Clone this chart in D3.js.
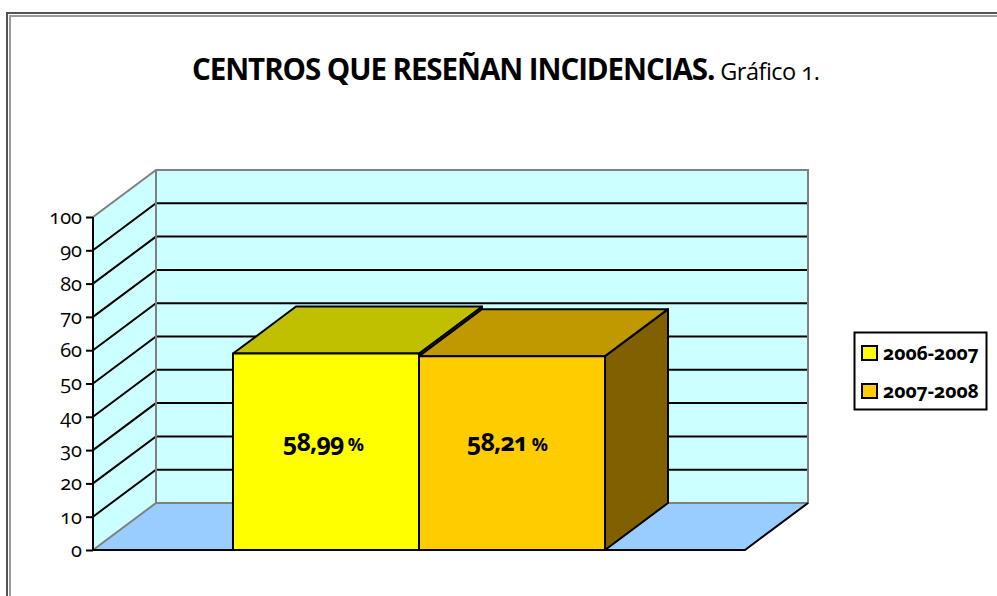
<!DOCTYPE html>
<html>
<head>
<meta charset="utf-8">
<script src="https://cdn.jsdelivr.net/npm/d3@7"></script>
<style>
  html, body { margin: 0; padding: 0; background: #fff; }
  svg { display: block; }
  text { font-family: "Open Sans", "Noto Sans", sans-serif; fill: #000; font-variant-numeric: oldstyle-nums; }
  .axis text { font-family: "Open Sans", sans-serif; font-size: 20px; }
</style>
</head>
<body>
<div id="chart"></div>
<script>
var categories = [ "Centros" ];
var seriesNames = [ "2006-2007", "2007-2008" ];
var seriesValues = [ 58.99, 58.21 ];
var valueLabels = [ "58,99", "58,21" ];
var tickValues = [ 0, 10, 20, 30, 40, 50, 60, 70, 80, 90, 100 ];
var barColors = [ "#ffff00", "#ffcc00" ];
var topColors = [ "#c0c000", "#c09800" ];
var sideColors = [ "#808000", "#806000" ];

var width = 997,
  height = 596,
  plot = { left: 93, right: 745, top: 217, bottom: 550 },
  depth = { x: 63, y: -47 };

var svg = d3.select( "#chart" ).append( "svg" )
  .attr( "width", width )
  .attr( "height", height );

// Page frame, double line running off the right side
var frame = svg.append( "g" ).style( "fill", "none" );
frame.append( "path" ).attr( "d", "M7,596V13H997" ).style( "stroke-width", 2 ).style( "stroke", "#555" );
frame.append( "path" ).attr( "d", "M10,596V16H997" ).style( "stroke-width", 2 ).style( "stroke", "#999" );

// Title
var title = svg.append( "text" )
  .attr( "x", 192 )
  .attr( "y", 80 );
title.append( "tspan" )
  .style( "font-size", "29.5px" )
  .style( "font-weight", 700 )
  .style( "letter-spacing", "-1.06px" )
  .text( "CENTROS QUE RESEÑAN INCIDENCIAS." );
title.append( "tspan" )
  .attr( "dx", 6 )
  .style( "font-size", "23.5px" )
  .style( "letter-spacing", "-0.5px" )
  .text( "Gráfico 1." );

// Scales
var xScale = d3.scaleBand()
  .domain( categories )
  .range( [ plot.left, plot.right ] )
  .paddingInner( 0.2734 )
  .paddingOuter( 0.2734 );

var xSeries = d3.scaleBand()
  .domain( seriesNames )
  .range( [ 0, xScale.bandwidth() ] );

var yScale = d3.scaleLinear()
  .domain( [ 0, 100 ] )
  .range( [ plot.bottom, plot.top ] );

var poly = d3.line();

function shift( p ) {
  return [ p[ 0 ] + depth.x, p[ 1 ] + depth.y ];
}

var x0 = plot.left, x1 = plot.right, yMin = yScale( 0 ), yMax = yScale( 100 );
var g = svg.append( "g" );

// Left wall and back wall
g.append( "path" )
  .attr( "d", poly( [ [ x0, yMin ], shift( [ x0, yMin ] ), shift( [ x0, yMax ] ), [ x0, yMax ] ] ) + "Z" )
  .style( "fill", "#ccffff" );

g.append( "rect" )
  .attr( "x", x0 + depth.x )
  .attr( "y", yMax + depth.y )
  .attr( "width", x1 - x0 )
  .attr( "height", yMin - yMax )
  .style( "fill", "#ccffff" );

// Gridlines along both walls
var grids = tickValues.filter( function( d ) { return d > 0 && d < 100; } );

g.selectAll( ".grid" )
  .data( grids )
  .enter()
  .append( "path" )
    .attr( "class", "grid" )
    .attr( "d", function( d ) {
      var y = yScale( d );
      return poly( [ [ x0, y ], shift( [ x0, y ] ), shift( [ x1, y ] ) ] );
    } )
    .style( "fill", "none" )
    .style( "stroke", "#000" )
    .style( "stroke-width", 2 );

// Floor
g.append( "path" )
  .attr( "d", poly( [ [ x0, yMin ], shift( [ x0, yMin ] ), shift( [ x1, yMin ] ), [ x1, yMin ] ] ) + "Z" )
  .style( "fill", "#99ccff" );

// Grey wall outline
g.append( "path" )
  .attr( "d", poly( [ [ x0, yMin ], shift( [ x0, yMin ] ), shift( [ x1, yMin ] ), shift( [ x1, yMax ] ), shift( [ x0, yMax ] ), [ x0, yMax ] ] ) )
  .style( "fill", "none" )
  .style( "stroke", "#808080" )
  .style( "stroke-width", 2 );

g.append( "path" )
  .attr( "d", poly( [ shift( [ x0, yMin ] ), shift( [ x0, yMax ] ) ] ) )
  .style( "stroke", "#808080" )
  .style( "stroke-width", 2 );

// Front and right floor edges
g.append( "path" )
  .attr( "d", poly( [ [ x0, yMin ], [ x1, yMin ], shift( [ x1, yMin ] ) ] ) )
  .style( "fill", "none" )
  .style( "stroke", "#000" )
  .style( "stroke-width", 2 );

// Bars, each one a front, top and side face
var bars = g.selectAll( ".bar" )
  .data( seriesValues )
  .enter()
  .append( "g" )
    .attr( "class", "bar" )
    .style( "stroke", "#000" )
    .style( "stroke-width", 2 )
    .style( "stroke-linejoin", "round" );

function barLeft( i ) {
  return xScale( categories[ 0 ] ) + xSeries( seriesNames[ i ] );
}

bars.append( "path" )
  .style( "fill", function( d, i ) { return sideColors[ i ]; } )
  .attr( "d", function( d, i ) {
    var r = barLeft( i ) + xSeries.bandwidth();
    return poly( [ [ r, yMin ], shift( [ r, yMin ] ), shift( [ r, yScale( d ) ] ), [ r, yScale( d ) ] ] ) + "Z";
  } );

bars.append( "path" )
  .style( "fill", function( d, i ) { return topColors[ i ]; } )
  .attr( "d", function( d, i ) {
    var l = barLeft( i ), r = l + xSeries.bandwidth(), y = yScale( d );
    return poly( [ [ l, y ], shift( [ l, y ] ), shift( [ r, y ] ), [ r, y ] ] ) + "Z";
  } );

bars.append( "rect" )
  .style( "fill", function( d, i ) { return barColors[ i ]; } )
  .attr( "x", function( d, i ) { return barLeft( i ); } )
  .attr( "y", function( d ) { return yScale( d ); } )
  .attr( "width", xSeries.bandwidth() )
  .attr( "height", function( d ) { return yMin - yScale( d ); } );

// Value labels
var labels = g.selectAll( ".value" )
  .data( seriesValues )
  .enter()
  .append( "text" )
    .attr( "class", "value" )
    .attr( "x", function( d, i ) { return barLeft( i ) + xSeries.bandwidth() / 2 - 3 + i * -2; } )
    .attr( "y", 451 )
    .attr( "text-anchor", "middle" )
    .style( "font-weight", 700 )
    .style( "font-size", "25px" )
    .style( "letter-spacing", "-0.8px" );

labels.append( "tspan" ).text( function( d, i ) { return valueLabels[ i ]; } );
labels.append( "tspan" ).attr( "dx", 4 ).style( "font-size", "18px" ).text( "%" );

// Y axis
var yAxis = d3.axisLeft( yScale )
  .tickValues( tickValues )
  .tickSize( 7 )
  .tickPadding( 4 );

svg.append( "g" )
  .attr( "class", "axis" )
  .attr( "transform", "translate(" + plot.left + ",0)" )
  .call( yAxis )
  .call( function( a ) {
    a.selectAll( "path, line" ).style( "stroke", "#000" ).style( "stroke-width", 2 );
    a.select( ".domain" ).attr( "d", "M0," + yMin + "V" + yMax );
  } );

// Legend
var legend = svg.append( "g" );

legend.append( "rect" )
  .attr( "x", 854.5 )
  .attr( "y", 332.5 )
  .attr( "width", 132 )
  .attr( "height", 77 )
  .style( "fill", "#fff" )
  .style( "stroke", "#000" )
  .style( "stroke-width", 2 );

var items = legend.selectAll( ".item" )
  .data( seriesNames )
  .enter()
  .append( "g" )
    .attr( "class", "item" )
    .attr( "transform", function( d, i ) { return "translate(862," + ( 346 + i * 38 ) + ")"; } );

items.append( "rect" )
  .attr( "width", 15 )
  .attr( "height", 14 )
  .style( "stroke", "#000" )
  .style( "stroke-width", 2 )
  .style( "fill", function( d, i ) { return barColors[ i ]; } );

items.append( "text" )
  .attr( "x", 21 )
  .attr( "y", 14 )
  .style( "font-weight", 700 )
  .style( "font-size", "19.4px" )
  .text( function( d ) { return d; } );
</script>
</body>
</html>
